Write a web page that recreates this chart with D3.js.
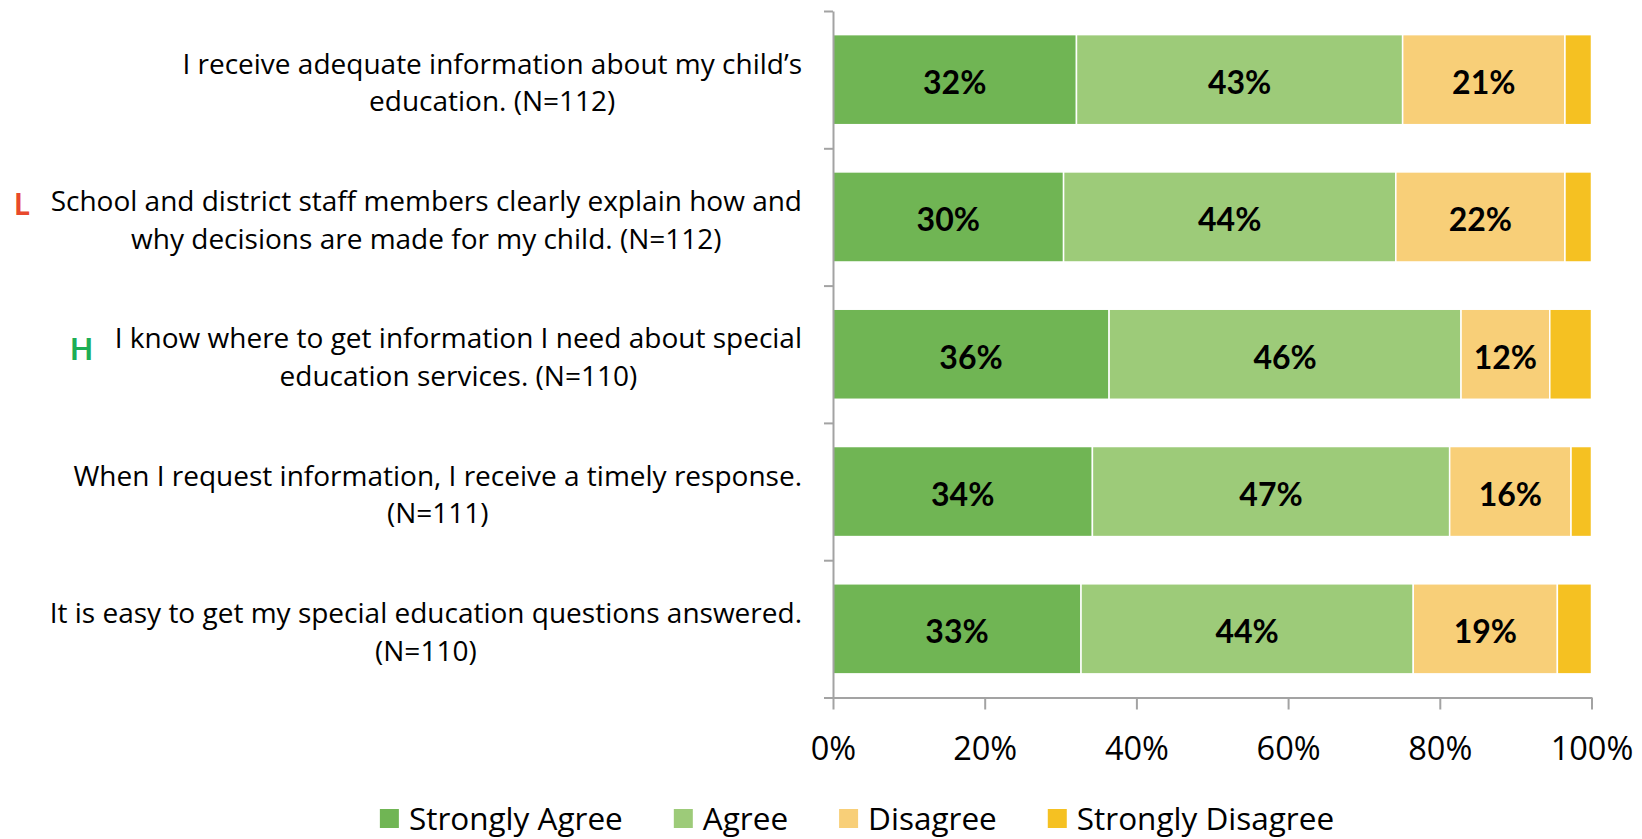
<!DOCTYPE html>
<html>
<head>
<meta charset="utf-8">
<script src="https://cdn.jsdelivr.net/npm/d3@7"></script>
<style>
  body { margin: 0; background: #fff; }
  svg { display: block; font-family: "Open Sans", Lato, sans-serif; }
</style>
</head>
<body>
<div class="chart-container"></div>
<script>
//! CONSTS
const WIDTH = 1642;
const HEIGHT = 839;
const LEFT = 833, RIGHT = 1591.5, TOP = 11, BOTTOM = 697.5;
const AXIS_GREY = '#a3a3a3';

//! DATA
const categories = [
  ['I receive adequate information about my child\u2019s', 'education. (N=112)'],
  ['School and district staff members clearly explain how and', 'why decisions are made for my child. (N=112)'],
  ['I know where to get information I need about special', 'education services. (N=110)'],
  ['When I request information, I receive a timely response.', '(N=111)'],
  ['It is easy to get my special education questions answered.', '(N=110)']
];
const markers = ['', 'L', 'H', '', ''];
const markerColors = { L: '#e8492c', H: '#1dae55' };
const series = ['Strongly Agree', 'Agree', 'Disagree', 'Strongly Disagree'];
const colors = ['#70b554', '#9dcb79', '#f8cf78', '#f5c122'];
const stronglyAgree = [32.1, 30.4, 36.4, 34.2, 32.7];
const agree = [43.0, 43.8, 46.4, 47.1, 43.8];
const disagree = [21.4, 22.3, 11.7, 16.0, 19.0];
const stronglyDisagree = [3.5, 3.5, 5.5, 2.7, 4.5];
const xTicks = [0, 20, 40, 60, 80, 100];

// table for the stack
const table = categories.map((c, i) => ({
  idx: i,
  'Strongly Agree': stronglyAgree[i],
  'Agree': agree[i],
  'Disagree': disagree[i],
  'Strongly Disagree': stronglyDisagree[i]
}));

//! SVG
const svg = d3.select('.chart-container')
  .append('svg')
  .attr('width', WIDTH)
  .attr('height', HEIGHT);

//! SCALES
const x = d3.scaleLinear().domain([0, 100]).range([LEFT, RIGHT]);
const y = d3.scaleBand()
  .domain(d3.range(categories.length))
  .range([TOP, BOTTOM])
  .paddingInner(0.344)
  .paddingOuter(0.172);
// boundaries between categories, for the axis ticks
const yb = d3.scaleLinear().domain([0, categories.length]).range([TOP, BOTTOM]);
const color = d3.scaleOrdinal().domain(series).range(colors);

const stacked = d3.stack().keys(series)(table);

// bars
const layers = svg.append('g')
  .selectAll('g')
  .data(stacked)
  .enter()
  .append('g')
  .attr('fill', d => color(d.key));

layers.selectAll('rect')
  .data(d => d)
  .enter()
  .append('rect')
  .attr('x', d => x(d[0]))
  .attr('y', d => y(d.data.idx))
  .attr('width', d => x(d[1]) - x(d[0]))
  .attr('height', y.bandwidth())
  .attr('stroke', '#fff')
  .attr('stroke-width', 1.5);

// value labels (skip the thin strongly disagree slivers)
layers.selectAll('text')
  .data(d => d.filter(s => x(s[1]) - x(s[0]) > 50))
  .enter()
  .append('text')
  .attr('x', d => (x(d[0]) + x(d[1])) / 2)
  .attr('y', d => y(d.data.idx) + y.bandwidth() / 2 + 3)
  .attr('dy', '0.36em')
  .attr('text-anchor', 'middle')
  .attr('font-family', 'Lato, sans-serif')
  .attr('font-size', 32)
  .attr('font-weight', 'bold')
  .attr('fill', '#000')
  .text(d => Math.round(d[1] - d[0]) + '%');

//! AXES
const xAxis = svg.append('g')
  .attr('transform', `translate(0,${BOTTOM})`)
  .call(d3.axisBottom(x)
    .tickValues(xTicks)
    .tickSizeInner(12)
    .tickSizeOuter(0)
    .tickFormat(d => d + '%'));
xAxis.selectAll('text')
  .attr('y', 62.5)
  .attr('dy', 0)
  .attr('font-size', 32.5)
  .attr('font-family', '"Open Sans", sans-serif')
  .attr('fill', '#000');

const yAxis = svg.append('g')
  .attr('transform', `translate(${LEFT},0)`)
  .call(d3.axisLeft(yb)
    .tickValues(d3.range(categories.length + 1))
    .tickSizeInner(9)
    .tickSizeOuter(0)
    .tickFormat(''));

svg.selectAll('.domain, .tick line')
  .attr('stroke', AXIS_GREY)
  .attr('stroke-width', 2);

// category labels: lines centred on each other, block right aligned
const labels = svg.append('g')
  .attr('font-size', 28)
  .attr('fill', '#000');

categories.forEach((lines, i) => {
  const cy = y(i) + y.bandwidth() / 2;
  const t = labels.append('text').attr('text-anchor', 'middle');
  lines.forEach((line, j) => {
    t.append('tspan')
      .attr('y', cy - 6 + j * 37.7)
      .text(line);
  });
  const w = d3.max(t.selectAll('tspan').nodes(), n => n.getComputedTextLength());
  t.selectAll('tspan').attr('x', 802 - w / 2);

  if (markers[i]) {
    svg.append('text')
      .attr('x', markers[i] === 'L' ? 14 : 70)
      .attr('y', markers[i] === 'L' ? cy - 1.5 : cy + 5.5)
      .attr('font-family', 'Lato, sans-serif')
      .attr('font-size', 30)
      .attr('font-weight', 'bold')
      .attr('fill', markerColors[markers[i]])
      .text(markers[i]);
  }
});

//! LEGEND
const legend = svg.append('g').attr('font-size', 31.5).attr('fill', '#000');
let lx = 0;
series.forEach((s, i) => {
  const item = legend.append('g').attr('transform', `translate(${lx},0)`);
  item.append('rect')
    .attr('x', 0).attr('y', 809)
    .attr('width', 19).attr('height', 19)
    .attr('fill', color(s));
  const t = item.append('text')
    .attr('x', 29).attr('y', 830)
    .text(s);
  lx += 29 + t.node().getComputedTextLength() + 51;
});
lx -= 51;
legend.attr('transform', `translate(${857 - lx / 2},0)`);
</script>
</body>
</html>
